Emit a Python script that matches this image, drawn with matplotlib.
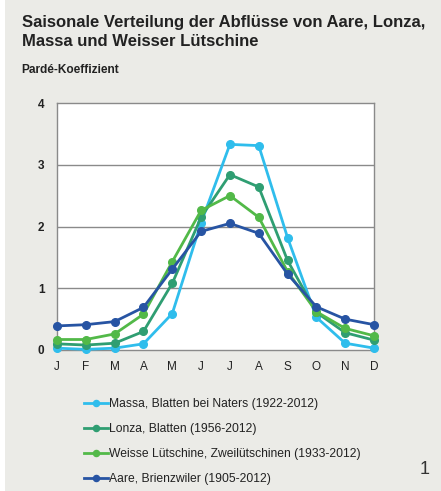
import numpy as np
import matplotlib.pyplot as plt
from matplotlib.patches import Rectangle

plt.rcParams['font.family'] = ['Liberation Sans', 'DejaVu Sans']

months = ['J', 'F', 'M', 'A', 'M', 'J', 'J', 'A', 'S', 'O', 'N', 'D']

massa = [0.03, 0.01, 0.03, 0.10, 0.59, 2.06, 3.33, 3.31, 1.82, 0.53, 0.11, 0.03]
lonza = [0.10, 0.08, 0.11, 0.30, 1.08, 2.15, 2.84, 2.64, 1.45, 0.61, 0.28, 0.16]
weisse = [0.17, 0.17, 0.26, 0.58, 1.43, 2.26, 2.50, 2.15, 1.27, 0.62, 0.35, 0.23]
aare = [0.39, 0.41, 0.46, 0.69, 1.31, 1.92, 2.05, 1.89, 1.23, 0.70, 0.50, 0.41]

labels = ['Massa, Blatten bei Naters (1922-2012)',
          'Lonza, Blatten (1956-2012)',
          'Weisse Lütschine, Zweilütschinen (1933-2012)',
          'Aare, Brienzwiler (1905-2012)']
colors = ['#2fbdec', '#2f9e72', '#52b948', '#2754a3']

fig = plt.figure(figsize=(4.41, 4.91), dpi=100, facecolor='white')
fig.patches.append(Rectangle((5/441, 0), 1, 1, transform=fig.transFigure,
                             facecolor='#ebebe7', edgecolor='none', zorder=-5))

ax = fig.add_axes([57/441, (491-350)/491, 317/441, 247/491])
ax.set_facecolor('white')

x = np.arange(12)
series = [massa, lonza, weisse, aare]
for vals, lab, col in zip(series, labels, colors):
    ax.plot(x, vals, color=col, lw=2, marker='o', ms=5.5, mec=col,
            mfc=col, label=lab, clip_on=False, zorder=3)

ax.set_xlim(0, 11)
ax.set_ylim(0, 4)
ax.set_yticks([0, 1, 2, 3, 4])
ax.set_xticks(x)
ax.set_xticklabels(months)
ax.tick_params(length=0)
ax.tick_params(axis='x', pad=8, labelsize=8.5, colors='#222222')
ax.tick_params(axis='y', pad=9, labelsize=8.5, colors='#222222')
for t in ax.get_yticklabels():
    t.set_fontweight('bold')
for y in [1, 2, 3]:
    ax.axhline(y, color='#8a8a8a', lw=1, zorder=1)
for s in ax.spines.values():
    s.set_color('#8a8a8a')
    s.set_linewidth(1)

fig.text(22/441, 1 - 32/491, 'Saisonale Verteilung der Abflüsse von Aare, Lonza,\nMassa und Weisser Lütschine',
         fontsize=12, fontweight='bold', va='center', ha='left',
         color='#222222', linespacing=1.32)
fig.text(21/441, 1 - 70/491, 'Pardé-Koeffizient', fontsize=8.6, fontweight='bold',
         va='center', ha='left', color='#222222')
fig.text(430/441, 1 - 470/491, '1', fontsize=13, va='center', ha='right',
         color='#333333')

leg = ax.legend(loc='upper left', bbox_to_anchor=(78/441, 1 - 392/491),
                bbox_transform=fig.transFigure, frameon=False, fontsize=8.7,
                handlelength=2.0, handletextpad=0.1, labelspacing=1.08,
                borderpad=0, markerscale=0.8)
for t in leg.get_texts():
    t.set_color('#222222')

fig.savefig('out.png', dpi=100, facecolor=fig.get_facecolor())
